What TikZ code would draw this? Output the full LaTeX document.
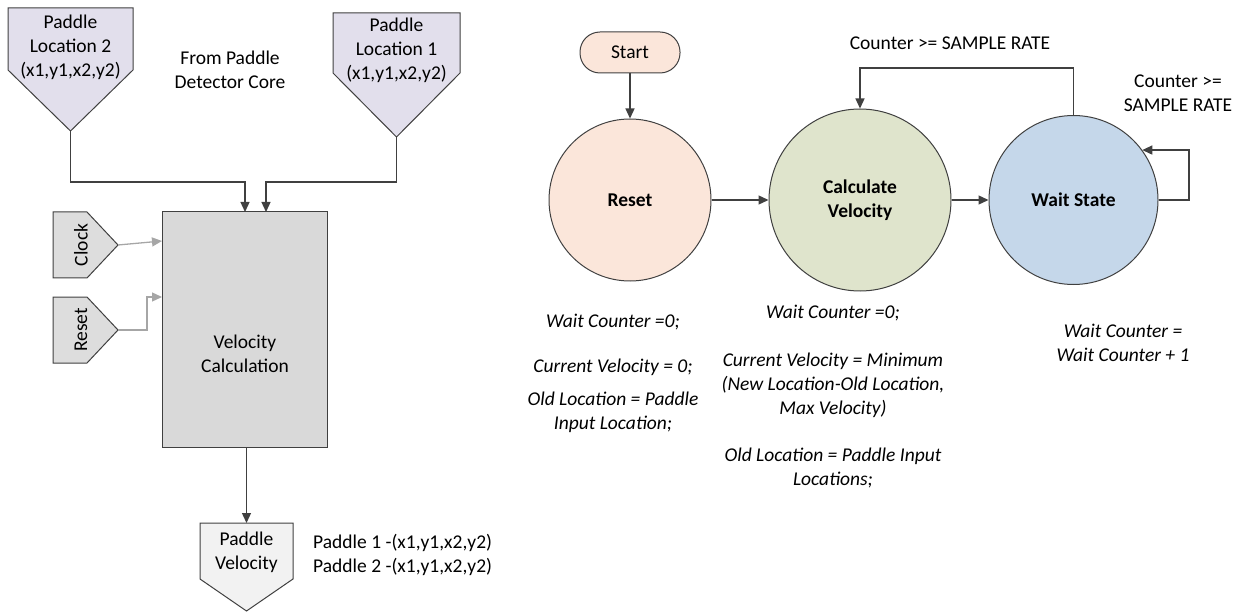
\documentclass[tikz,border=0pt]{standalone}
\usepackage{fontspec}
\setmainfont{Carlito}
\usetikzlibrary{arrows.meta,calc}
\definecolor{lineC}{HTML}{404040}
\definecolor{grayArr}{HTML}{A6A6A6}
\definecolor{lavC}{HTML}{E2DFEC}
\definecolor{sigC}{HTML}{DDDDDD}
\definecolor{boxC}{HTML}{D9D9D9}
\definecolor{outC}{HTML}{F2F2F2}
\definecolor{peachC}{HTML}{FBE6DA}
\definecolor{oliveC}{HTML}{DFE4CC}
\definecolor{blueC}{HTML}{C5D7EA}
\tikzset{
  txt/.style={font=\fontsize{19.5}{24}\selectfont, align=center, inner sep=0pt},
  itxt/.style={txt, font=\fontsize{19.5}{24}\selectfont\itshape},
  btxt/.style={txt, font=\fontsize{19.5}{24}\selectfont\bfseries},
  shp/.style={draw=lineC, line width=1pt},
  arr/.style={draw=lineC, line width=1.3pt, -{Triangle[length=10pt,width=9pt]}},
  garr/.style={draw=grayArr, line width=1.3pt, -{Triangle[length=10pt,width=9pt]}},
  statec/.style={circle, draw=lineC, line width=1pt, inner sep=0pt},
}
\begin{document}
\begin{tikzpicture}[x=1pt,y=-1pt]
\useasboundingbox (0,0) rectangle (1255,612);

% ---------- input / output ports of the velocity block ----------
\draw[shp, fill=lavC] (8,8) -- (133,8) -- (133,70) -- (70.5,131) -- (8,70) -- cycle;
\coordinate (pl2) at (70.5,131);
\node[txt] (pl2t) at (70.5,47) {Paddle\\Location 2\\(x1,y1,x2,y2)};

\draw[shp, fill=lavC] (333,13) -- (460,13) -- (460,73) -- (396.5,137) -- (333,73) -- cycle;
\coordinate (pl1) at (396.5,137);
\node[txt] (pl1t) at (396.5,50) {Paddle\\Location 1\\(x1,y1,x2,y2)};

\node[txt] (src) at (230,70) {From Paddle\\Detector Core};

\draw[shp, fill=sigC] (53,212) -- (87,212) -- (118,245) -- (87,278) -- (53,278) -- cycle;
\coordinate (clk) at (118,245);
\node[txt, rotate=90] (clkt) at (81,245) {Clock};

\draw[shp, fill=sigC] (53,297) -- (87,297) -- (118,330) -- (87,363) -- (53,363) -- cycle;
\coordinate (rst) at (118,330);
\node[txt, rotate=90] (rstt) at (81,330) {Reset};

% velocity calculation block
\node[draw=lineC, line width=1pt, fill=boxC, minimum width=165pt, minimum height=235pt, inner sep=0pt] (vc) at (244.5,329.5) {};
\node[txt] (vct) at (245,354) {Velocity\\Calculation};

\draw[shp, fill=outC] (200,523) -- (293,523) -- (293,579) -- (246.5,611) -- (200,579) -- cycle;
\coordinate (pv) at (246.5,523);
\node[txt] (pvt) at (246.5,552) {Paddle\\Velocity};
\node[txt, anchor=west, align=left] (pvd) at (313,555) {Paddle 1 -(x1,y1,x2,y2)\\Paddle 2 -(x1,y1,x2,y2)};

\coordinate (in2) at (245,212);
\coordinate (in1) at (266,212);
\coordinate (clkin) at (162,241);
\coordinate (rstin) at (162,297);

\draw[arr] (pl2) -- (70.5,182) -| (in2);
\draw[arr] (pl1) -- (396.5,182) -| (in1);
\draw[garr] (clk) -- (clkin);
\draw[garr] (rst) -- (147,330) |- (rstin);
\draw[arr] (vc.south -| pv) -- (pv);

% ---------- state machine ----------
\node[draw=lineC, line width=1pt, fill=peachC, rounded corners=20pt, minimum width=100pt, minimum height=41pt, inner sep=0pt] (start) at (630,52.5) {};
\node[txt] (startt) at (630,52.5) {Start};

\node[statec, fill=peachC, minimum size=162pt] (sreset) at (630,200) {};
\node[btxt] at (sreset) {Reset};
\node[statec, fill=oliveC, minimum size=182pt] (scalc) at (860,200) {};
\node[btxt] at (scalc) {Calculate\\Velocity};
\node[statec, fill=blueC, minimum size=169pt] (swait) at (1073.5,200) {};
\node[btxt] at (swait) {Wait State};

\draw[arr] (start.south) -- (sreset.north);
\draw[arr] (sreset.east) -- (scalc.west);
\draw[arr] (scalc.east) -- (swait.west);
\draw[arr] (swait.north) -- ++(0,-47) -| (scalc.north);
\draw[arr] (swait.east) -- (1189,200) |- (swait.36);

\node[txt] (lbl1) at (950,43) {Counter >= SAMPLE RATE};
\node[txt] (lbl2) at (1178,93.5) {Counter >=\\SAMPLE RATE};

% state actions
\node[itxt] (r1) at (613,322) {Wait Counter =0;};
\node[itxt] (r2) at (613,367) {Current Velocity = 0;};
\node[itxt] (r3) at (613,412.5) {Old Location = Paddle\\Input Location;};

\node[itxt] (c1) at (833,313) {Wait Counter =0;};
\node[itxt] (c2) at (833,385) {Current Velocity = Minimum\\(New Location-Old Location,\\Max Velocity)};
\node[itxt] (c3) at (833,468) {Old Location = Paddle Input\\Locations;};

\node[itxt] (w1) at (1123,343) {Wait Counter =\\Wait Counter + 1};
\end{tikzpicture}
\end{document}
